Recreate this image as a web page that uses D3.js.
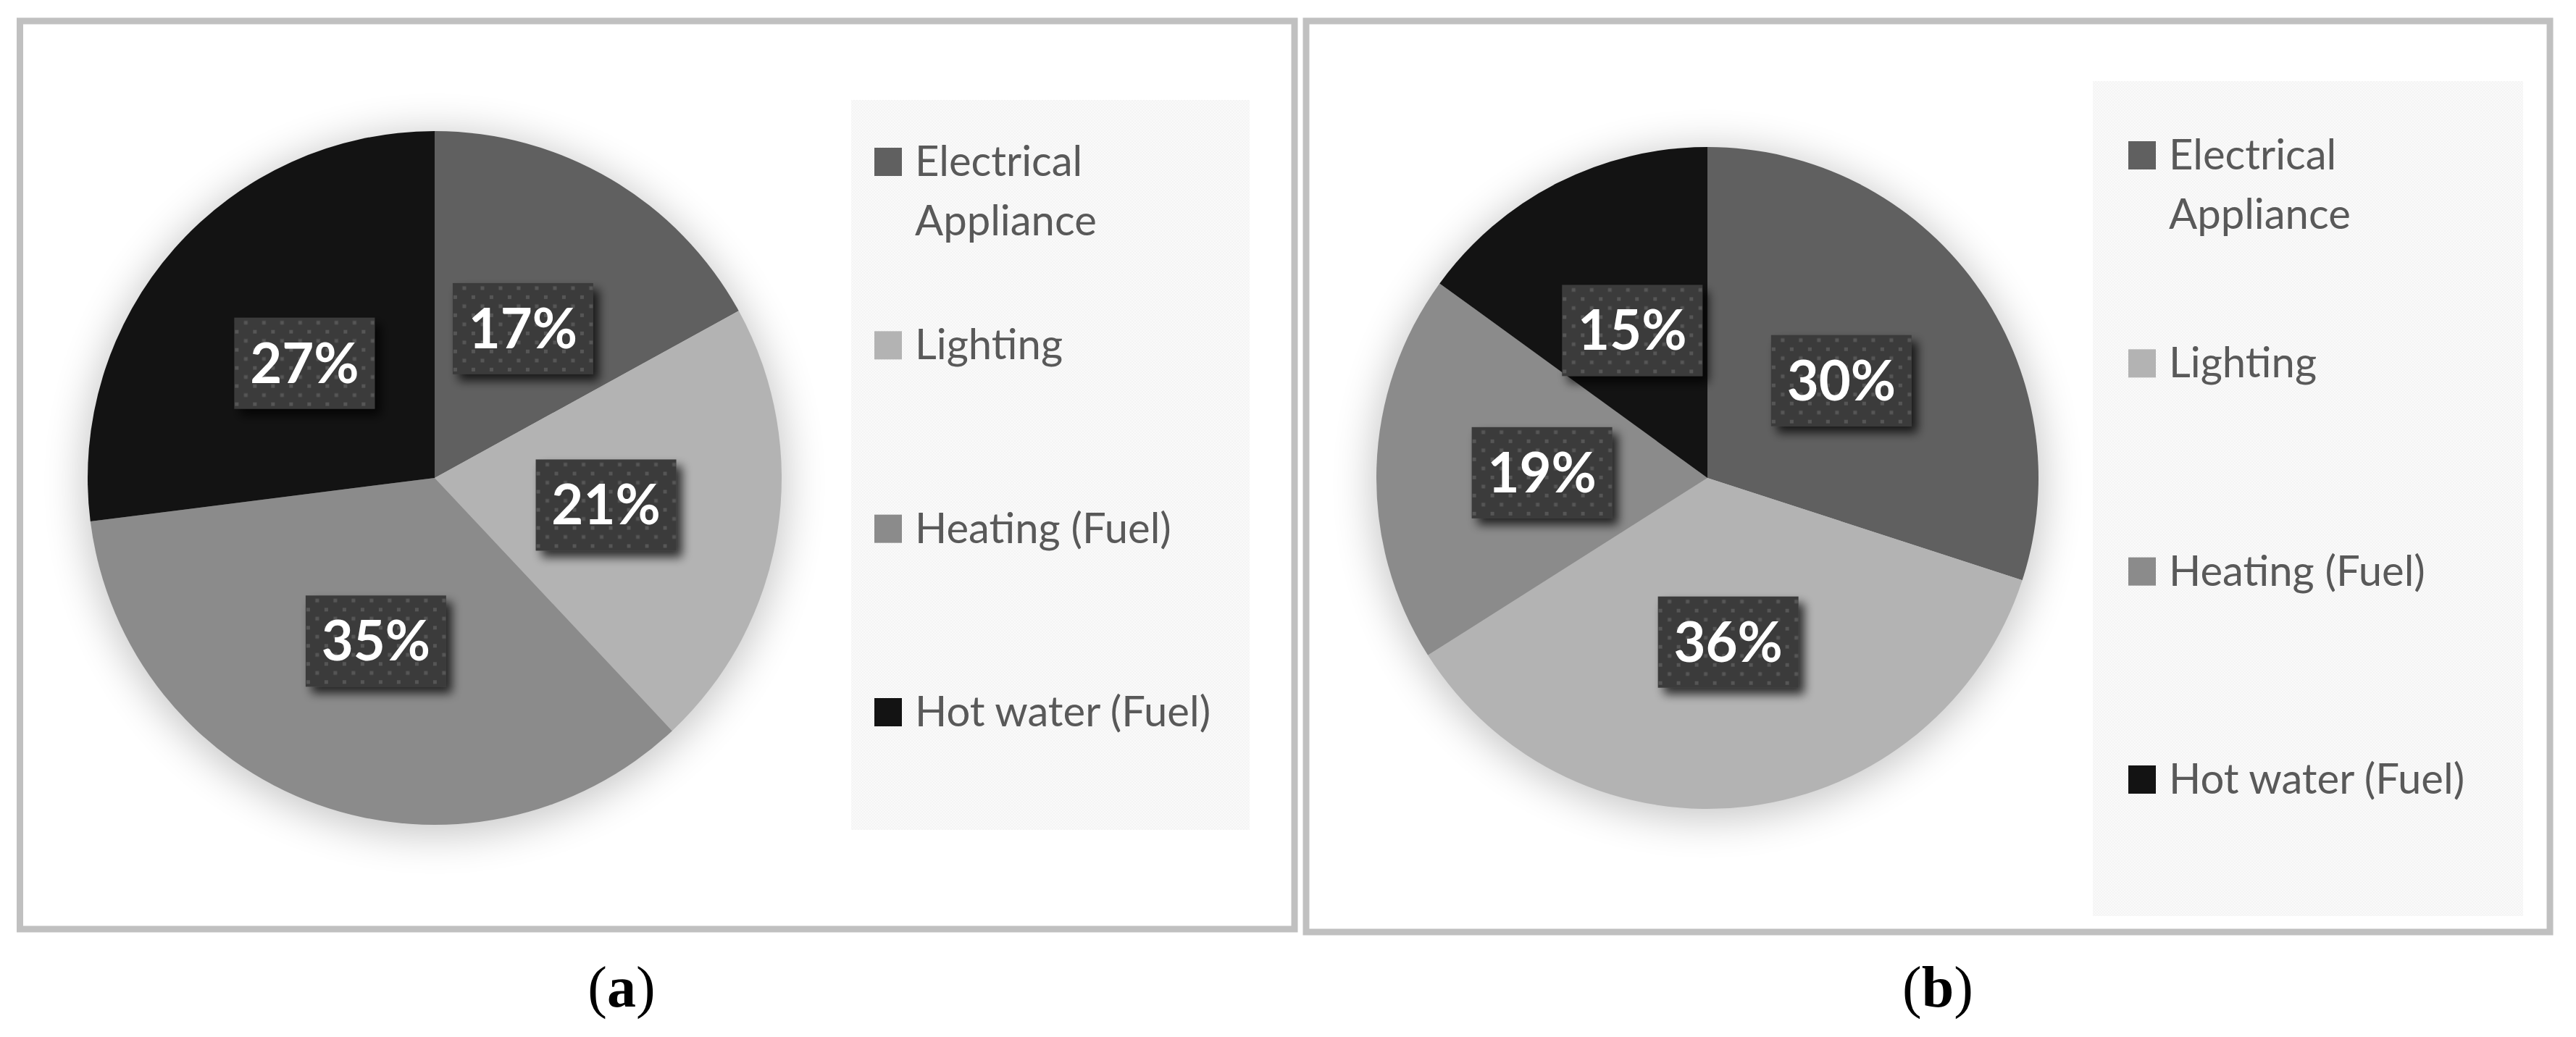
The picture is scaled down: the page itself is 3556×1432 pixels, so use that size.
<!DOCTYPE html>
<html>
<head>
<meta charset="utf-8">
<script src="https://cdn.jsdelivr.net/npm/d3@7"></script>
<style>
  html, body { margin: 0; padding: 0; background: #fff; }
  svg { display: block; }
</style>
</head>
<body>
<div id="chart"></div>
<script>
// data
const categories = ["Electrical Appliance", "Lighting", "Heating (Fuel)", "Hot water (Fuel)"];
const legendLines = [["Electrical", "Appliance"], ["Lighting"], ["Heating (Fuel)"], ["Hot water (Fuel)"]];
const valuesA = [17, 21, 35, 27];
const valuesB = [30, 36, 19, 15];
const panelTags = ["a", "b"];
const sliceColors = ["#606060", "#b3b3b3", "#8b8b8b", "#131313"];

const width = 3556, height = 1432;

// layout of the two panels
const panels = [
  { values: valuesA, tag: panelTags[0],
    frame: [27.5, 29, 1787, 1283],
    cx: 600, cy: 660, r: 479,
    legend: [1175, 138, 1725, 1146], legendX: 1207, legendY: [243, 1003],
    captionX: 858 },
  { values: valuesB, tag: panelTags[1],
    frame: [1803, 29, 3520, 1287],
    cx: 2357, cy: 660, r: 457,
    legend: [2889, 112, 3483, 1265], legendX: 2938, legendY: [234, 1096],
    captionX: 2675 }
];

const svg = d3.select("#chart").append("svg")
  .attr("width", width).attr("height", height);

const defs = svg.append("defs");

// halo under the pie
const halo = defs.append("filter").attr("id", "halo")
  .attr("x", "-30%").attr("y", "-30%").attr("width", "160%").attr("height", "160%");
halo.append("feGaussianBlur").attr("in", "SourceGraphic").attr("stdDeviation", 28);

// shadow under the label boxes
const boxShadow = defs.append("filter").attr("id", "boxShadow")
  .attr("x", "-30%").attr("y", "-30%").attr("width", "170%").attr("height", "170%");
boxShadow.append("feGaussianBlur").attr("in", "SourceAlpha").attr("stdDeviation", 7).attr("result", "b");
boxShadow.append("feOffset").attr("in", "b").attr("dx", 8).attr("dy", 9).attr("result", "o");
boxShadow.append("feComponentTransfer").attr("in", "o").attr("result", "s")
  .append("feFuncA").attr("type", "linear").attr("slope", 0.75);
const merge = boxShadow.append("feMerge");
merge.append("feMergeNode").attr("in", "s");
merge.append("feMergeNode").attr("in", "SourceGraphic");

// dotted fill of the label boxes
const dots = defs.append("pattern").attr("id", "dots")
  .attr("patternUnits", "userSpaceOnUse").attr("width", 25).attr("height", 25);
dots.append("rect").attr("width", 25).attr("height", 25).attr("fill", "#3b3b3b");
dots.append("rect").attr("x", 4).attr("y", 4).attr("width", 5).attr("height", 5).attr("fill", "#565656");
dots.append("rect").attr("x", 16.5).attr("y", 16.5).attr("width", 5).attr("height", 5).attr("fill", "#565656");

// faint checker of the legend area
const checker = defs.append("pattern").attr("id", "checker")
  .attr("patternUnits", "userSpaceOnUse").attr("width", 4).attr("height", 4);
checker.append("rect").attr("width", 4).attr("height", 4).attr("fill", "#fafafa");
checker.append("rect").attr("width", 2).attr("height", 2).attr("fill", "#f4f4f4");
checker.append("rect").attr("x", 2).attr("y", 2).attr("width", 2).attr("height", 2).attr("fill", "#f4f4f4");

const pie = d3.pie().sort(null).value(d => d);

panels.forEach(p => {
  const g = svg.append("g");

  // frame
  g.append("rect")
    .attr("x", p.frame[0]).attr("y", p.frame[1])
    .attr("width", p.frame[2] - p.frame[0]).attr("height", p.frame[3] - p.frame[1])
    .attr("fill", "#fff").attr("stroke", "#c0c0c0").attr("stroke-width", 9);

  // legend background
  g.append("rect")
    .attr("x", p.legend[0]).attr("y", p.legend[1])
    .attr("width", p.legend[2] - p.legend[0]).attr("height", p.legend[3] - p.legend[1])
    .attr("fill", "url(#checker)");

  // pie
  const arc = d3.arc().innerRadius(0).outerRadius(p.r);
  const pg = g.append("g").attr("transform", `translate(${p.cx},${p.cy})`);

  pg.append("circle").attr("cx", 0).attr("cy", 8).attr("r", p.r + 6)
    .attr("fill", "#000").attr("opacity", 0.22).attr("filter", "url(#halo)");

  const arcs = pie(p.values);
  pg.selectAll("path.slice").data(arcs).enter().append("path")
    .attr("class", "slice")
    .attr("d", arc)
    .attr("fill", (d, i) => sliceColors[i]);

  // data labels
  const bw = 194, bh = 126;
  const lab = pg.selectAll("g.lab").data(arcs).enter().append("g")
    .attr("class", "lab")
    .attr("transform", d => `translate(${arc.centroid(d)})`);
  lab.append("rect")
    .attr("x", -bw / 2).attr("y", -bh / 2).attr("width", bw).attr("height", bh)
    .attr("fill", "url(#dots)").attr("filter", "url(#boxShadow)");
  lab.append("text")
    .attr("text-anchor", "middle").attr("y", 27)
    .attr("font-family", "Lato, 'Open Sans', sans-serif")
    .attr("font-weight", 700).attr("font-size", 76)
    .attr("fill", "#fff")
    .text(d => d.data + "%");

  // legend
  const ly = d3.scaleLinear().domain([0, categories.length - 1]).range(p.legendY);
  const items = g.selectAll("g.leg").data(categories).enter().append("g")
    .attr("class", "leg")
    .attr("transform", (d, i) => `translate(${p.legendX},${ly(i)})`);
  items.append("rect")
    .attr("x", 0).attr("y", -39).attr("width", 38).attr("height", 39)
    .attr("fill", (d, i) => sliceColors[i]);
  const txt = items.append("text")
    .attr("x", 56).attr("y", 0)
    .attr("font-family", "Lato, 'Open Sans', sans-serif")
    .attr("font-size", 58).attr("fill", "#595959");
  txt.selectAll("tspan").data((d, i) => legendLines[i]).enter().append("tspan")
    .attr("x", 56).attr("dy", (d, j) => j === 0 ? 0 : 82)
    .text(d => d);

  // caption
  const cap = g.append("text")
    .attr("x", p.captionX).attr("y", 1390)
    .attr("text-anchor", "middle")
    .attr("font-family", "'Liberation Serif', 'Times New Roman', serif")
    .attr("font-size", 80).attr("fill", "#000");
  cap.append("tspan").text("(");
  cap.append("tspan").attr("font-weight", 700).text(p.tag);
  cap.append("tspan").text(")");
});
</script>
</body>
</html>
